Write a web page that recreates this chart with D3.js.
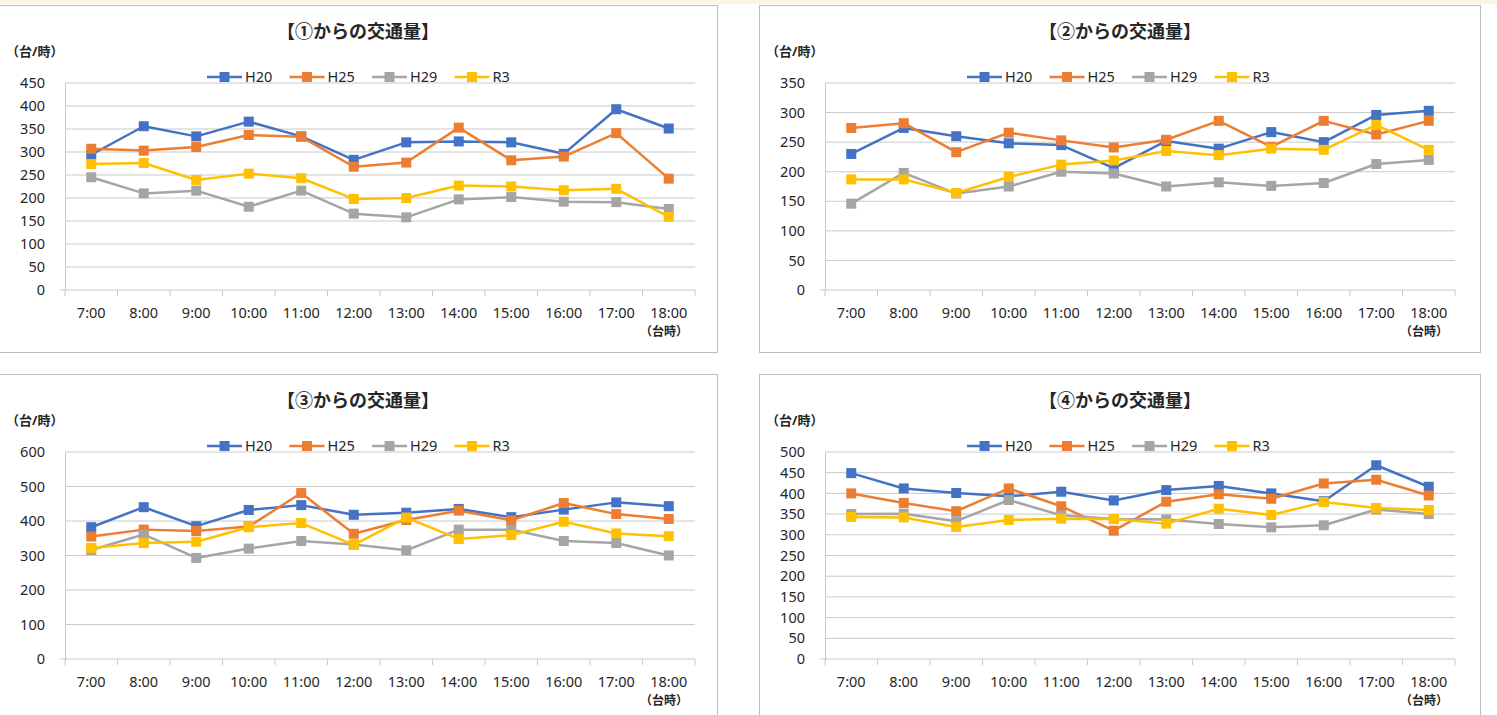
<!DOCTYPE html>
<html lang="ja">
<head>
<meta charset="UTF-8">
<title>交通量</title>
<script src="https://d3js.org/d3.v7.min.js"></script>
<style>
  body { margin: 0; background: #fff; }
  svg text { font-family: "Noto Sans", "Noto Sans CJK JP", sans-serif; fill: #262626; }
  .grid line { stroke: #c9c9c9; stroke-width: 1; }
  .series path { fill: none; stroke-width: 2.5; stroke-linejoin: round; }
</style>
</head>
<body>
<script>
// hours on the category axis
var categories = ["7:00", "8:00", "9:00", "10:00", "11:00", "12:00", "13:00", "14:00", "15:00", "16:00", "17:00", "18:00"];
var seriesNames = ["H20", "H25", "H29", "R3"];
var seriesColors = ["#4472C4", "#ED7D31", "#A5A5A5", "#FFC000"];

// chart ① values
var c1H20 = [294, 356, 334, 366, 334, 283, 321, 323, 321, 296, 393, 351];
var c1H25 = [307, 303, 311, 337, 333, 268, 277, 353, 282, 290, 341, 242];
var c1H29 = [245, 210, 216, 181, 216, 166, 158, 197, 202, 192, 191, 176];
var c1R3  = [274, 276, 239, 253, 243, 198, 200, 227, 225, 217, 220, 159];
var c1Ticks = [0, 50, 100, 150, 200, 250, 300, 350, 400, 450];

// chart ② values
var c2H20 = [230, 274, 260, 248, 245, 206, 252, 239, 267, 250, 296, 303];
var c2H25 = [274, 282, 233, 266, 253, 241, 254, 286, 242, 286, 263, 286];
var c2H29 = [146, 198, 163, 175, 200, 197, 175, 182, 176, 181, 213, 220];
var c2R3  = [187, 187, 164, 191, 212, 219, 235, 228, 239, 237, 279, 237];
var c2Ticks = [0, 50, 100, 150, 200, 250, 300, 350];

// chart ③ values
var c3H20 = [382, 440, 385, 432, 446, 418, 424, 435, 411, 433, 454, 443];
var c3H25 = [355, 375, 371, 384, 481, 363, 403, 430, 402, 452, 420, 406];
var c3H29 = [316, 361, 293, 320, 342, 332, 315, 375, 375, 342, 336, 300];
var c3R3  = [322, 336, 340, 382, 394, 331, 410, 348, 359, 398, 364, 356];
var c3Ticks = [0, 100, 200, 300, 400, 500, 600];

// chart ④ values
var c4H20 = [449, 412, 401, 393, 404, 383, 408, 418, 400, 381, 468, 416];
var c4H25 = [400, 377, 357, 412, 369, 310, 380, 398, 387, 424, 433, 395];
var c4H29 = [350, 351, 333, 384, 347, 338, 337, 326, 318, 323, 361, 350];
var c4R3  = [343, 342, 319, 336, 339, 338, 327, 363, 348, 379, 365, 360];
var c4Ticks = [0, 50, 100, 150, 200, 250, 300, 350, 400, 450, 500];

var titles = ["【①からの交通量】", "【②からの交通量】", "【③からの交通量】", "【④からの交通量】"];

var panels = [
  { x: -1,  y: 5,   w: 718, h: 347, title: titles[0], ticks: c1Ticks, data: [c1H20, c1H25, c1H29, c1R3] },
  { x: 759, y: 5,   w: 721, h: 347, title: titles[1], ticks: c2Ticks, data: [c2H20, c2H25, c2H29, c2R3] },
  { x: -1,  y: 374, w: 718, h: 347, title: titles[2], ticks: c3Ticks, data: [c3H20, c3H25, c3H29, c3R3] },
  { x: 759, y: 374, w: 721, h: 347, title: titles[3], ticks: c4Ticks, data: [c4H20, c4H25, c4H29, c4R3] }
];

var svg = d3.select("body").append("svg")
    .attr("width", 1497)
    .attr("height", 715);

// faint cream strip along the top edge
svg.append("rect").attr("x", 0).attr("y", 0).attr("width", 1497).attr("height", 4).attr("fill", "#fcf4e4");

panels.forEach(function(p) {
  var g = svg.append("g").attr("transform", "translate(" + p.x + "," + p.y + ")");

  g.append("rect")
      .attr("x", 0.5).attr("y", 0.5)
      .attr("width", p.w).attr("height", p.h)
      .attr("fill", "#fff").attr("stroke", "#bdbdbd");

  // plot area inside the panel
  var left = 66, right = 696, top = 78, bottom = 285;
  var cx = (p.x < 0) ? 359 : 361;

  var x = d3.scaleBand().domain(categories).range([left, right]);
  var y = d3.scaleLinear().domain([0, d3.max(p.ticks)]).range([bottom, top]);

  g.append("text")
      .attr("x", cx).attr("y", 33)
      .attr("text-anchor", "middle")
      .style("font-size", "18px").style("font-weight", "bold")
      .text(p.title);

  g.append("text")
      .attr("x", 7).attr("y", 51)
      .style("font-size", "13px").style("font-weight", "bold")
      .text("（台/時）");

  // gridlines
  g.append("g").attr("class", "grid")
    .selectAll("line")
    .data(p.ticks.filter(function(t) { return t > 0; }))
    .enter().append("line")
      .attr("x1", left).attr("x2", right)
      .attr("y1", function(d) { return y(d); })
      .attr("y2", function(d) { return y(d); });

  // y axis labels
  var ya = g.append("g")
      .attr("transform", "translate(" + left + ",0)")
      .call(d3.axisLeft(y).tickValues(p.ticks).tickSize(0).tickPadding(20));
  ya.select(".domain").attr("stroke", "#c9c9c9");
  ya.selectAll("text").style("font-size", "14.5px");

  // x axis
  var xa = g.append("g")
      .attr("transform", "translate(0," + bottom + ")")
      .call(d3.axisBottom(x).tickSize(0).tickPadding(18));
  xa.select(".domain").remove();
  xa.selectAll("text").style("font-size", "14.5px");

  g.append("line")
      .attr("x1", left - 5).attr("x2", right)
      .attr("y1", bottom).attr("y2", bottom)
      .attr("stroke", "#c9c9c9");

  var bounds = categories.map(function(c) { return x(c); }).concat([right]);
  g.selectAll(".xtick").data(bounds).enter().append("line")
      .attr("class", "xtick")
      .attr("x1", function(d) { return d; }).attr("x2", function(d) { return d; })
      .attr("y1", bottom).attr("y2", bottom + 6)
      .attr("stroke", "#c9c9c9");

  g.append("text")
      .attr("x", right - 31).attr("y", 331)
      .attr("text-anchor", "middle")
      .style("font-size", "12px").style("font-weight", "bold")
      .text("（台時）");

  // legend
  var lg = g.append("g").attr("transform", "translate(208,72)");
  seriesNames.forEach(function(name, i) {
    var e = lg.append("g").attr("transform", "translate(" + (i * 82.5) + ",0)");
    e.append("line").attr("x1", 0).attr("x2", 35).attr("y1", 0).attr("y2", 0)
        .attr("stroke", seriesColors[i]).attr("stroke-width", 2.5);
    e.append("rect").attr("x", 12.5).attr("y", -5).attr("width", 10).attr("height", 10)
        .attr("fill", seriesColors[i]);
    e.append("text").attr("x", 38).attr("y", 0).attr("dy", "0.36em")
        .style("font-size", "14.5px").text(name);
  });

  // series
  var line = d3.line()
      .x(function(d, i) { return x(categories[i]) + x.bandwidth() / 2; })
      .y(function(d) { return y(d); });

  p.data.forEach(function(vals, si) {
    var s = g.append("g").attr("class", "series");
    s.append("path").datum(vals).attr("d", line).attr("stroke", seriesColors[si]);
    s.selectAll("rect").data(vals).enter().append("rect")
        .attr("x", function(d, i) { return x(categories[i]) + x.bandwidth() / 2 - 5; })
        .attr("y", function(d) { return y(d) - 5; })
        .attr("width", 10).attr("height", 10)
        .attr("fill", seriesColors[si]);
  });
});
</script>
</body>
</html>
